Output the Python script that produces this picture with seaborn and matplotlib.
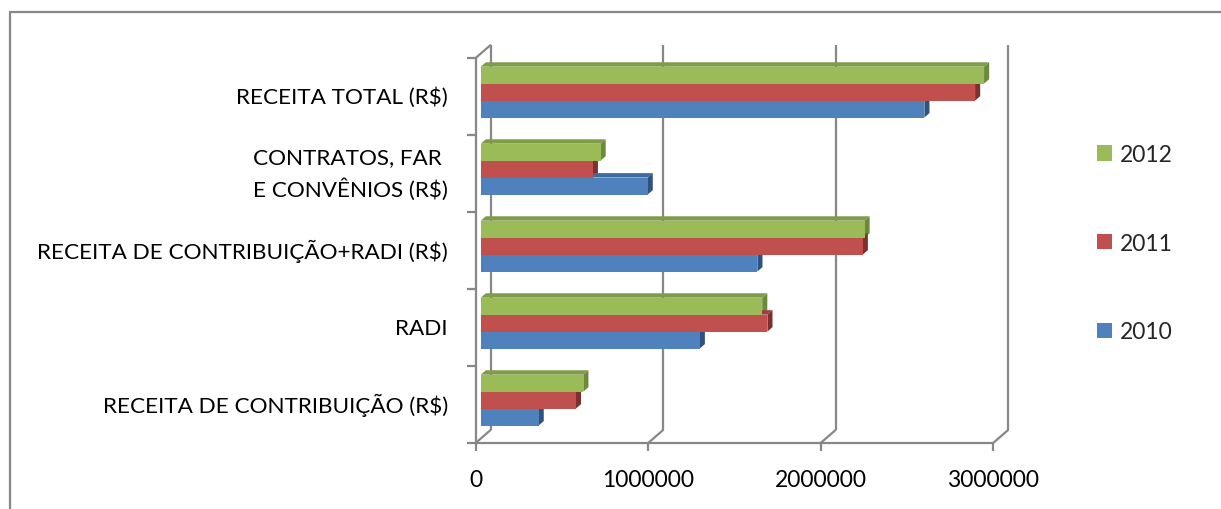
import matplotlib
matplotlib.use("Agg")
import matplotlib.pyplot as plt
from matplotlib.patches import Polygon, Patch
from matplotlib.lines import Line2D
import seaborn as sns
import pandas as pd

# ---- data -------------------------------------------------------------
categories = [
    "RECEITA TOTAL (R$)",
    "CONTRATOS, FAR \nE CONVÊNIOS (R$)",
    "RECEITA DE CONTRIBUIÇÃO+RADI (R$)",
    "RADI",
    "RECEITA DE CONTRIBUIÇÃO (R$)",
]
years = ["2012", "2011", "2010"]
values_2010 = [2572000, 968000, 1604000, 1270000, 336000]
values_2011 = [2866000, 650000, 2215000, 1662000, 552000]
values_2012 = [2918000, 695000, 2225000, 1632000, 595000]
x_ticks = [0, 1000000, 2000000, 3000000]
x_tick_labels = ["0", "1000000", "2000000", "3000000"]

series = {"2010": values_2010, "2011": values_2011, "2012": values_2012}
df = pd.DataFrame(
    [(c, y, series[y][i]) for y in years for i, c in enumerate(categories)],
    columns=["categoria", "ano", "valor"],
)

front_colors = {"2012": "#9BBB59", "2011": "#C0504D", "2010": "#4F81BD"}
top_colors = {"2012": "#7E9D48", "2011": "#9E3F3D", "2010": "#3F6A9E"}
side_colors = {"2012": "#6B8A3A", "2011": "#7F2F2E", "2010": "#2E5282"}
grid_color = "#878787"

# ---- figure -----------------------------------------------------------
sns.set_style("white")
plt.rcParams["font.family"] = ["Lato", "DejaVu Sans"]

W, H = 1221, 510
fig = plt.figure(figsize=(W / 100, H / 100), dpi=100)
ax_left, ax_right, ax_top, ax_bottom = 480.7, 998.2, 54.6, 439.6
ax = fig.add_axes([ax_left / W, 1 - ax_bottom / H,
                   (ax_right - ax_left) / W, (ax_bottom - ax_top) / H])

sns.barplot(data=df, y="categoria", x="valor", hue="ano", order=categories,
            hue_order=years, palette=front_colors, width=0.66, saturation=1,
            orient="h", linewidth=0, legend=False, ax=ax)

xmax = 3000000
ax.set_xlim(0, xmax)
ax.set_ylim(len(categories) - 0.5, -0.5)
ax.set_axis_off()

# depth of the 3D box, in data units
px_x = xmax / (ax_right - ax_left)             # data units per pixel (x)
px_y = len(categories) / (ax_bottom - ax_top)  # data units per pixel (y)
DX = 15.3 * px_x
DY = 13.3 * px_y
fx, fy = -DX / 3, DY / 3          # front plane relative to bar faces
bx, by = 2 * DX / 3, -2 * DY / 3  # back wall relative to bar faces
y_top, y_floor = -0.5, len(categories) - 0.5

line_kw = dict(color=grid_color, lw=1.6, clip_on=False, zorder=1,
               solid_capstyle="butt")

# left wall
ax.plot([fx, fx], [y_top + fy, y_floor + fy], **line_kw)
ax.plot([bx, bx], [y_top + by, y_floor + by], **line_kw)
ax.plot([fx, bx], [y_top + fy, y_top + by], **line_kw)
# floor front edge
ax.plot([fx, xmax + fx], [y_floor + fy, y_floor + fy], **line_kw)
# floor diagonals, back gridlines, x ticks and labels
for t, lab in zip(x_ticks, x_tick_labels):
    ax.plot([t + fx, t + bx], [y_floor + fy, y_floor + by], **line_kw)
    if t > 0:
        ax.plot([t + bx, t + bx], [y_top + by, y_floor + by], **line_kw)
    ax.plot([t + fx, t + fx], [y_floor + fy, y_floor + fy + 7.7 * px_y], **line_kw)
    ax.text(t + fx, y_floor + fy + 36 * px_y, lab, ha="center", va="center",
            fontsize=16.5, color="#000000")

# category ticks and labels
for k in range(len(categories) + 1):
    yk = k - 0.5 + fy
    ax.plot([fx - 9 * px_x, fx], [yk, yk], **line_kw)
for i, c in enumerate(categories):
    ax.text(fx - 27.7 * px_x, i + fy, c, ha="right", va="center",
            fontsize=16.2, color="#000000", linespacing=1.55,
            multialignment="right")

# 3D top and side faces of every bar
bars = [p for p in ax.patches if p.get_width() > 0]
for p in bars:
    fc = p.get_facecolor()
    year = min(years, key=lambda yv: sum(
        (a - b) ** 2 for a, b in zip(fc[:3], matplotlib.colors.to_rgb(front_colors[yv]))))
    x1 = p.get_x() + p.get_width()
    x0 = p.get_x()
    ya = min(p.get_y(), p.get_y() + p.get_height())
    yb = max(p.get_y(), p.get_y() + p.get_height())
    dx, dy = DX / 3, -DY / 3
    top = Polygon([(x0, ya), (x1, ya), (x1 + dx, ya + dy), (x0 + dx, ya + dy)],
                  closed=True, facecolor=top_colors[year], edgecolor="none",
                  zorder=2, clip_on=False)
    side = Polygon([(x1, ya), (x1, yb), (x1 + dx, yb + dy), (x1 + dx, ya + dy)],
                   closed=True, facecolor=side_colors[year], edgecolor="none",
                   zorder=2, clip_on=False)
    ax.add_patch(top)
    ax.add_patch(side)
    p.set_zorder(3)
    p.set_clip_on(False)

# legend
handles = [Patch(facecolor=front_colors[y], edgecolor="none") for y in years]
fig.legend(handles, years, loc="center left",
           bbox_to_anchor=(1097 / W, 1 - 244.3 / H), frameon=False,
           fontsize=16.5, handlelength=0.66, handleheight=0.66,
           handletextpad=0.35, labelspacing=2.95, borderpad=0,
           borderaxespad=0)

# outer frame of the chart area
fig.add_artist(Line2D([10 / W, 10 / W], [0, 1 - 12.7 / H],
                      transform=fig.transFigure, color=grid_color, lw=1.6))
fig.add_artist(Line2D([10 / W, 1], [1 - 12.7 / H, 1 - 12.7 / H],
                      transform=fig.transFigure, color=grid_color, lw=1.6))

fig.savefig("out.png", dpi=100)
